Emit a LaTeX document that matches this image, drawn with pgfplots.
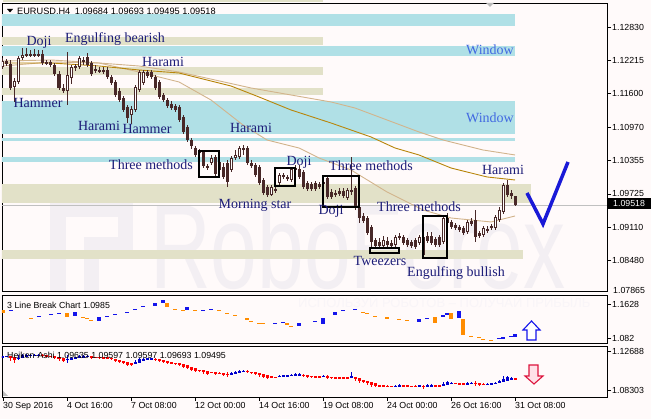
\documentclass[border=0pt]{standalone}
\usepackage{fontspec}
\setmainfont{Liberation Sans}
\newfontfamily\serif{Liberation Serif}
\usepackage{pgfplots}
\usepackage{pgfplotstable}
\pgfplotsset{compat=1.18}

\definecolor{bgc}{RGB}{255,250,250}
\definecolor{candle}{RGB}{72,40,40}
\definecolor{lblue}{RGB}{176,224,230}
\definecolor{beige}{RGB}{226,225,200}
\definecolor{navy}{RGB}{28,28,120}
\definecolor{winblue}{RGB}{65,105,225}
\definecolor{gold}{RGB}{184,134,11}
\definecolor{tanc}{RGB}{210,180,140}
\definecolor{lborange}{RGB}{255,140,0}
\definecolor{lbblue}{RGB}{20,20,235}
\definecolor{hared}{RGB}{255,0,0}
\definecolor{hablue}{RGB}{0,0,205}
\definecolor{wm}{RGB}{243,239,243}
\definecolor{wm2}{RGB}{249,245,248}
\definecolor{pricegray}{RGB}{192,192,192}
\definecolor{ckblue}{RGB}{25,25,215}
\definecolor{arred}{RGB}{220,20,60}
\definecolor{arpink}{RGB}{255,225,232}

\newcommand\ticfont{\fontsize{8.8}{10}\selectfont}

\pgfplotstableread{
i o h l c ho hc
0 1.12087 1.12254 1.12050 1.12198 1.12143 1.12147
1 1.12198 1.12236 1.12105 1.12143 1.12144 1.12170
2 1.12143 1.12217 1.11659 1.11696 1.12157 1.11929
3 1.11715 1.11882 1.11436 1.11826 1.12042 1.11715
4 1.11808 1.12291 1.11771 1.12254 1.11879 1.12031
5 1.12254 1.12440 1.12217 1.12310 1.11955 1.12305
6 1.12310 1.12440 1.12273 1.12329 1.12130 1.12338
7 1.12329 1.12403 1.12273 1.12310 1.12234 1.12329
8 1.12310 1.12422 1.12273 1.12329 1.12280 1.12333
9 1.12329 1.12403 1.12273 1.12310 1.12306 1.12329
10 1.12329 1.12403 1.12124 1.12161 1.12317 1.12254
11 1.12161 1.12217 1.12124 1.12180 1.12286 1.12170
12 1.12180 1.12217 1.12087 1.12124 1.12228 1.12152
13 1.12124 1.12161 1.11919 1.11957 1.12189 1.12040
14 1.11957 1.12012 1.11659 1.11696 1.12115 1.11831
15 1.11696 1.11771 1.11603 1.11640 1.11973 1.11678
16 1.11640 1.12366 1.11380 1.11938 1.11825 1.11831
17 1.11882 1.12124 1.11771 1.12087 1.11828 1.11966
18 1.12068 1.12143 1.12012 1.12105 1.11897 1.12082
19 1.12087 1.12291 1.12050 1.12254 1.11990 1.12170
20 1.12217 1.12273 1.12124 1.12180 1.12079 1.12198
21 1.12273 1.12347 1.12087 1.12124 1.12139 1.12208
22 1.12161 1.12198 1.11919 1.11957 1.12172 1.12059
23 1.12050 1.12124 1.11975 1.12012 1.12115 1.12040
24 1.12031 1.12087 1.11975 1.12012 1.12078 1.12026
25 1.12031 1.12087 1.11957 1.11994 1.12052 1.12017
26 1.12031 1.12087 1.11864 1.11901 1.12035 1.11971
27 1.11901 1.11938 1.11752 1.11789 1.12003 1.11845
28 1.11808 1.11845 1.11529 1.11566 1.11923 1.11687
29 1.11640 1.11696 1.11436 1.11473 1.11804 1.11561
30 1.11510 1.11547 1.11250 1.11287 1.11683 1.11399
31 1.11343 1.11380 1.11045 1.11138 1.11540 1.11227
32 1.11194 1.11361 1.11027 1.11306 1.11384 1.11222
33 1.11287 1.11752 1.11250 1.11715 1.11302 1.11501
34 1.11659 1.12031 1.11622 1.11994 1.11400 1.11826
35 1.11789 1.12031 1.11752 1.11994 1.11613 1.11892
36 1.11994 1.12031 1.11882 1.11919 1.11752 1.11957
37 1.11994 1.12031 1.11864 1.11901 1.11854 1.11947
38 1.11901 1.11938 1.11659 1.11696 1.11901 1.11799
39 1.11808 1.11845 1.11492 1.11529 1.11849 1.11668
40 1.11566 1.11603 1.11436 1.11473 1.11758 1.11520
41 1.11473 1.11510 1.11324 1.11361 1.11639 1.11417
42 1.11399 1.11454 1.11287 1.11324 1.11527 1.11366
43 1.11361 1.11399 1.11250 1.11287 1.11447 1.11324
44 1.11343 1.11380 1.11064 1.11101 1.11386 1.11222
45 1.11157 1.11194 1.10841 1.10878 1.11304 1.11017
46 1.10971 1.11008 1.10692 1.10729 1.11161 1.10850
47 1.10729 1.10766 1.10562 1.10617 1.11004 1.10669
48 1.10580 1.10617 1.10413 1.10450 1.10837 1.10515
49 1.10487 1.10562 1.10431 1.10524 1.10675 1.10501
50 1.10506 1.10543 1.10208 1.10245 1.10588 1.10376
51 1.10245 1.10283 1.10171 1.10208 1.10482 1.10227
52 1.10301 1.10450 1.10264 1.10394 1.10353 1.10352
53 1.10413 1.10450 1.10059 1.10097 1.10353 1.10255
54 1.10171 1.10394 1.10134 1.10320 1.10303 1.10255
55 1.10227 1.10301 1.10004 1.10041 1.10279 1.10143
56 1.10301 1.10357 1.09855 1.09948 1.10210 1.10115
57 1.10171 1.10431 1.10134 1.10394 1.10162 1.10283
58 1.10394 1.10543 1.10357 1.10450 1.10223 1.10436
59 1.10413 1.10617 1.10376 1.10580 1.10329 1.10497
60 1.10543 1.10636 1.10450 1.10580 1.10413 1.10552
61 1.10580 1.10617 1.10264 1.10301 1.10484 1.10441
62 1.10301 1.10357 1.10208 1.10245 1.10461 1.10278
63 1.10264 1.10301 1.10041 1.10078 1.10370 1.10171
64 1.10227 1.10264 1.09892 1.09929 1.10270 1.10078
65 1.09985 1.10022 1.09706 1.09743 1.10173 1.09864
66 1.09855 1.09892 1.09669 1.09706 1.10019 1.09780
67 1.09706 1.09892 1.09687 1.09855 1.09899 1.09785
68 1.09780 1.09873 1.09743 1.09818 1.09842 1.09804
69 1.09929 1.10115 1.09892 1.10078 1.09823 1.10004
70 1.10078 1.10115 1.10004 1.10041 1.09912 1.10059
71 1.10041 1.10078 1.09966 1.10004 1.09985 1.10022
72 1.09985 1.10227 1.09948 1.10190 1.10004 1.10087
73 1.10171 1.10264 1.10115 1.10208 1.10044 1.10190
74 1.10190 1.10264 1.10004 1.10041 1.10117 1.10124
75 1.10134 1.10171 1.09818 1.09855 1.10121 1.09994
76 1.09929 1.09966 1.09780 1.09818 1.10058 1.09873
77 1.09911 1.09948 1.09780 1.09818 1.09965 1.09864
78 1.09929 1.09966 1.09780 1.09818 1.09914 1.09873
79 1.09911 1.09948 1.09818 1.09855 1.09894 1.09883
80 1.09948 1.10022 1.09836 1.09911 1.09888 1.09929
81 1.10022 1.10059 1.09632 1.09669 1.09909 1.09846
82 1.09762 1.09818 1.09632 1.09669 1.09877 1.09720
83 1.09743 1.09799 1.09669 1.09706 1.09799 1.09729
84 1.09780 1.09836 1.09687 1.09725 1.09764 1.09757
85 1.09780 1.09836 1.09650 1.09687 1.09760 1.09739
86 1.09650 1.09836 1.09613 1.09799 1.09749 1.09725
87 1.09799 1.10413 1.09706 1.09762 1.09736 1.09920
88 1.09836 1.09873 1.09427 1.09483 1.09827 1.09655
89 1.09483 1.09520 1.09185 1.09278 1.09741 1.09367
90 1.09315 1.09371 1.09185 1.09222 1.09554 1.09274
91 1.09278 1.09315 1.08962 1.08999 1.09414 1.09139
92 1.09111 1.09148 1.08720 1.08832 1.09276 1.08953
93 1.08869 1.08906 1.08702 1.08757 1.09115 1.08809
94 1.08832 1.08906 1.08702 1.08757 1.08962 1.08799
95 1.08757 1.08943 1.08702 1.08869 1.08880 1.08818
96 1.08850 1.08925 1.08702 1.08776 1.08849 1.08813
97 1.08813 1.08869 1.08720 1.08757 1.08830 1.08790
98 1.08776 1.08962 1.08739 1.08925 1.08810 1.08850
99 1.08943 1.08999 1.08869 1.08906 1.08830 1.08929
100 1.08925 1.08962 1.08776 1.08813 1.08880 1.08869
101 1.08869 1.08906 1.08739 1.08776 1.08875 1.08823
102 1.08832 1.08869 1.08720 1.08757 1.08849 1.08795
103 1.08869 1.08906 1.08702 1.08739 1.08821 1.08804
104 1.08813 1.08962 1.08776 1.08925 1.08813 1.08869
105 1.08590 1.08962 1.08534 1.08925 1.08841 1.08753
106 1.08943 1.09018 1.08813 1.08850 1.08797 1.08906
107 1.08943 1.09018 1.08776 1.08813 1.08850 1.08888
108 1.08888 1.08925 1.08739 1.08776 1.08869 1.08832
109 1.08925 1.08962 1.08739 1.08776 1.08850 1.08850
110 1.08832 1.09315 1.08795 1.09278 1.08850 1.09055
111 1.09278 1.09371 1.09148 1.09185 1.08953 1.09246
112 1.09204 1.09241 1.09074 1.09111 1.09100 1.09157
113 1.09148 1.09185 1.09055 1.09092 1.09128 1.09120
114 1.09111 1.09148 1.09018 1.09055 1.09124 1.09083
115 1.09092 1.09129 1.08962 1.08999 1.09103 1.09046
116 1.09018 1.09241 1.08981 1.09204 1.09074 1.09111
117 1.09222 1.09278 1.09129 1.09167 1.09092 1.09199
118 1.09241 1.09427 1.08832 1.08925 1.09146 1.09106
119 1.08999 1.09036 1.08906 1.08943 1.09126 1.08971
120 1.08962 1.09129 1.08925 1.09092 1.09048 1.09027
121 1.09074 1.09129 1.08999 1.09036 1.09036 1.09060
122 1.09092 1.09167 1.09055 1.09129 1.09048 1.09111
123 1.09092 1.09334 1.09055 1.09297 1.09079 1.09195
124 1.09241 1.09483 1.09204 1.09427 1.09137 1.09339
125 1.09390 1.09929 1.09353 1.09892 1.09237 1.09641
126 1.09892 1.09985 1.09669 1.09706 1.09438 1.09813
127 1.09743 1.09799 1.09632 1.09687 1.09626 1.09715
128 1.09684 1.09693 1.09495 1.09518 1.09671 1.09614
}\ohlc

\pgfplotstableread{
i t b
0 1.14854 1.14142
7 1.12954 1.12716
16 1.14142 1.13191
20 1.13191 1.12954
21 1.12954 1.12716
22 1.12478 1.12241
41 1.16518 1.15567
43 1.15092 1.14854
45 1.14854 1.14617
48 1.14854 1.14617
54 1.14854 1.14617
56 1.14142 1.13904
58 1.13666 1.13429
61 1.12954 1.12478
62 1.12241 1.12003
64 1.11766 1.11528
65 1.11766 1.11528
71 1.11766 1.11290
72 1.11053 1.10815
90 1.14379 1.14142
91 1.14142 1.13904
93 1.13429 1.13191
96 1.13191 1.12716
99 1.12716 1.12478
101 1.12478 1.12241
108 1.13191 1.11766
112 1.14142 1.12716
115 1.12716 1.08914
117 1.08677 1.08439
119 1.08439 1.08202
120 1.07964 1.07726
122 1.07726 1.07489
}\lbO

\pgfplotstableread{
i t b
2 1.14854 1.14617
9 1.13429 1.13191
12 1.13904 1.13666
14 1.14142 1.13904
18 1.14379 1.13429
24 1.13191 1.12241
26 1.13429 1.13191
28 1.13904 1.13666
31 1.14379 1.14142
33 1.15092 1.14854
35 1.15805 1.15567
38 1.16518 1.15805
40 1.17230 1.16518
46 1.15567 1.14854
50 1.14854 1.14617
52 1.15092 1.14854
68 1.11766 1.11528
70 1.12003 1.11766
74 1.11766 1.11053
78 1.12241 1.12003
80 1.12954 1.11528
83 1.14379 1.13666
85 1.14854 1.14617
88 1.15092 1.14854
104 1.12716 1.12003
106 1.12954 1.12716
110 1.13666 1.13191
111 1.14142 1.13666
114 1.14617 1.12954
124 1.08202 1.07964
125 1.08439 1.07964
127 1.08677 1.08439
128 1.09152 1.08439
}\lbB

\pgfplotsset{
  panel/.style={anchor=south west, scale only axis, width=605pt,
    xmin=-0.25, xmax=151, axis line style={line width=0.8pt},
    tick align=outside, major tick length=4pt,
    tick style={black, line width=0.8pt}, ytick pos=right,
    yticklabel style={font=\ticfont, inner sep=1pt}, xtick=\empty},
  eb/.style 2 args={draw=none, error bars/.cd, y dir=both, y explicit,
    error mark=none, error bar style={draw=#1, line width=#2}},
}

\begin{document}
\begin{tikzpicture}
\useasboundingbox (0,0) rectangle (651pt,419pt);
\fill[bgc] (0,0) rectangle (651pt,419pt);

% watermarks
\begin{scope}[x=1pt,y=-1pt,shift={(0pt,419pt)}]
  \begin{scope}
    \clip (2,3) rectangle (607,291);
    \fill[wm] (50,202) rectangle (66,291);
    \fill[wm] (50,202) rectangle (133,217);
    \fill[wm] (118,202) rectangle (133,252);
    \fill[wm] (84,237) rectangle (133,252);
    \fill[wm] (84,237) rectangle (99,291);
    \node[font=\fontsize{120}{120}\selectfont, text=wm, anchor=south west,
      inner sep=0pt, xscale=0.7] at (150,290) {RoboForex};
  \end{scope}
  \begin{scope}
    \clip (2,295) rectangle (607,343);
    \node[font=\fontsize{13}{14}\selectfont, text=wm2, anchor=west, inner sep=0pt]
      at (298,302) {ИСПОЛЬЗУЙ РОБОТОВ – ПОЛУЧАЙ ПРИБЫЛЬ};
  \end{scope}
\end{scope}

% ---------------- main panel
\begin{axis}[panel, at={(2pt,128pt)}, height=288pt,
  ymin=1.07920, ymax=1.13277,
  ytick={1.12830,1.12215,1.11600,1.10970,1.10355,1.09725,1.09110,1.08480},
  yticklabels={1.12830,1.12215,1.11600,1.10970,1.10355,1.09725,1.09110,1.08480}]
\fill[lblue] (axis cs:-1,1.13073) rectangle (axis cs:128,1.12849);
\fill[beige] (axis cs:-1,1.12645) rectangle (axis cs:80,1.12496);
\fill[lblue] (axis cs:-1,1.12477) rectangle (axis cs:128,1.12291);
\fill[beige] (axis cs:-1,1.12087) rectangle (axis cs:80,1.11938);
\fill[beige] (axis cs:-1,1.11696) rectangle (axis cs:80,1.11566);
\fill[lblue] (axis cs:-1,1.11454) rectangle (axis cs:128,1.10841);
\fill[lblue] (axis cs:-1,1.10766) rectangle (axis cs:128,1.10710);
\fill[lblue] (axis cs:-1,1.10413) rectangle (axis cs:128,1.10320);
\fill[beige] (axis cs:-1,1.09911) rectangle (axis cs:132,1.09557);
\fill[beige] (axis cs:-1,1.08683) rectangle (axis cs:130,1.08515);

\addplot[pricegray, line width=0.8pt] coordinates {(-0.25,1.09518) (151,1.09518)};

\addplot[tanc, line width=0.9pt] coordinates {(0,1.12198) (12,1.12217) (24,1.12161) (34,1.12105) (44,1.11994) (62,1.11696) (82,1.11436) (88,1.11324) (104,1.10878) (110,1.10729) (120,1.10543) (128,1.10450)};
\addplot[tanc, line width=0.9pt] coordinates {(0,1.12105) (12,1.12180) (24,1.12161) (34,1.11994) (44,1.11808) (52,1.11473) (60,1.11008) (66,1.10729) (74,1.10580) (79,1.10394) (87,1.10171) (96,1.09762) (105,1.09427) (112,1.09278) (122,1.09204) (128,1.09315)};
\addplot[gold, line width=0.9pt] coordinates {(0,1.12161) (12,1.12161) (24,1.12105) (34,1.12031) (44,1.11975) (57,1.11733) (64,1.11529) (72,1.11287) (82,1.11045) (92,1.10785) (98,1.10580) (104,1.10450) (112,1.10208) (121,1.10041) (128,1.09985)};

% candles
\addplot[eb={candle}{1pt}] table[x=i, y expr={(\thisrow{h}+\thisrow{l})/2}, y error expr={(\thisrow{h}-\thisrow{l})/2}] {\ohlc};
\addplot[eb={candle}{3pt}] table[x=i, y expr={(\thisrow{o}+\thisrow{c})/2}, y error expr={max(abs(\thisrow{c}-\thisrow{o})/2,0.00006)}] {\ohlc};
\addplot[eb={white}{1pt}] table[x=i, y expr={(\thisrow{o}+\thisrow{c})/2}, y error expr={max((\thisrow{c}-\thisrow{o})/2-0.00019,0)}] {\ohlc};

% pattern boxes
\draw[black, line width=1.6pt] (axis cs:49,1.10524) rectangle (axis cs:54,1.10041);
\draw[black, line width=1.6pt] (axis cs:68,1.10208) rectangle (axis cs:73,1.09873);
\draw[black, line width=1.6pt] (axis cs:80,1.10059) rectangle (axis cs:89,1.09483);
\draw[black, line width=1.6pt] (axis cs:91.75,1.08720) rectangle (axis cs:99,1.08627);
\draw[black, line width=1.6pt] (axis cs:105,1.09315) rectangle (axis cs:111,1.08534);

% forecast check mark
\draw[ckblue, line width=3.5pt, line join=miter] (axis cs:131,1.09743) -- (axis cs:135,1.09167) -- (axis cs:141.25,1.10320);
\end{axis}

% ---------------- 3 line break panel
\begin{axis}[panel, at={(2pt,76pt)}, height=48pt,
  ymin=1.07014, ymax=1.18418,
  ytick={1.1628,1.082}, yticklabels={1.1628,1.082}]
\addplot[eb={lborange}{3.5pt}] table[x=i, y expr={(\thisrow{t}+\thisrow{b})/2}, y error expr={(\thisrow{t}-\thisrow{b})/2}] {\lbO};
\addplot[eb={lbblue}{3.5pt}] table[x=i, y expr={(\thisrow{t}+\thisrow{b})/2}, y error expr={(\thisrow{t}-\thisrow{b})/2}] {\lbB};
\end{axis}

% ---------------- Heiken Ashi panel
\begin{axis}[panel, at={(2pt,22pt)}, height=51pt,
  ymin=1.07594, ymax=1.13329,
  ytick={1.12688,1.08303}, yticklabels={1.12688,1.08303},
  xtick={0,16,32,48,64,80,96,112,128}, xtick pos=bottom,
  xticklabels={30 Sep 2016,4 Oct 16:00,7 Oct 08:00,12 Oct 00:00,14 Oct 16:00,19 Oct 08:00,24 Oct 00:00,26 Oct 16:00,31 Oct 08:00},
  xticklabel style={anchor=north west, font=\ticfont, inner sep=0pt, yshift=-1.5pt}]
\addplot[eb={hared}{1pt}] table[x=i, y expr={(\thisrow{h}+\thisrow{l})/2}, y error expr={(\thisrow{h}-\thisrow{l})/2}] {\ohlc};
\addplot[eb={hablue}{1pt}] table[x=i, y expr={(\thisrow{h}+\thisrow{l})/2}, y error expr={(\thisrow{h}-\thisrow{l})/2*(\thisrow{hc}>\thisrow{ho})}] {\ohlc};
\addplot[eb={hared}{3pt}] table[x=i, y expr={(\thisrow{ho}+\thisrow{hc})/2}, y error expr={max(abs(\thisrow{hc}-\thisrow{ho})/2,0.0005)}] {\ohlc};
\addplot[eb={hablue}{3pt}] table[x=i, y expr={(\thisrow{ho}+\thisrow{hc})/2}, y error expr={max(abs(\thisrow{hc}-\thisrow{ho})/2,0.0005)*(\thisrow{hc}>\thisrow{ho})}] {\ohlc};
\end{axis}

% ---------------- texts and markers
\begin{scope}[x=1pt,y=-1pt,shift={(0pt,419pt)},
  lbl/.style={font=\serif\fontsize{14}{16}\selectfont, text=navy, inner sep=0pt},
  wlbl/.style={font=\serif\fontsize{14}{16}\selectfont, text=winblue, inner sep=0pt}]
\fill[beige] (3,0) rectangle (323,1.6);
\fill[black] (7,9) -- (13,9) -- (10,12.5) -- cycle;
\node[anchor=west, font=\fontsize{9.2}{10}\selectfont, inner sep=0pt] at (17,11) {EURUSD.H4\enspace 1.09684 1.09693 1.09495 1.09518};
\fill[gray!55] (486,3) -- (494,3) -- (490,7) -- cycle;

\node[lbl] at (39,42) {Doji};
\node[lbl] at (115,39) {Engulfing bearish};
\node[lbl] at (163,62) {Harami};
\node[lbl] at (38,103) {Hammer};
\node[lbl] at (99,126) {Harami};
\node[lbl] at (147,129) {Hammer};
\node[lbl] at (251,128) {Harami};
\node[lbl] at (151,165) {Three methods};
\node[lbl] at (255,205) {Morning star};
\node[lbl] at (299,162) {Doji};
\node[lbl] at (371,166) {Three methods};
\node[lbl] at (331,211) {Doji};
\node[lbl] at (419,207) {Three methods};
\node[lbl] at (380,261) {Tweezers};
\node[lbl] at (456,273) {Engulfing bullish};
\node[lbl] at (503,170) {Harami};
\node[wlbl, anchor=east] at (514,50) {Window};
\node[wlbl, anchor=east] at (514,118) {Window};

% current price tag
\fill[black] (608,198) rectangle (651,209);
\node[anchor=west, font=\ticfont, text=white, inner sep=0pt] at (613,203.5) {1.09518};
\node[anchor=west, font=\ticfont, inner sep=0pt] at (613,290) {1.07865};

% sub panel labels
\node[anchor=west, font=\ticfont, inner sep=0pt] at (7,305) {3 Line Break Chart 1.0985};
\node[anchor=west, font=\ticfont, inner sep=0pt] at (7,355) {Heiken-Ashi 1.09635 1.09597 1.09597 1.09693 1.09495};

% arrows
\draw[lbblue, fill=white, line width=1.1pt, line join=miter] (531.5,321) -- (540,330) -- (536,330) -- (536,340) -- (527,340) -- (527,330) -- (523,330) -- cycle;
\draw[arred, fill=arpink, line width=1.1pt, line join=miter] (529,365) -- (538,365) -- (538,376) -- (543,376) -- (534,384) -- (525,376) -- (529,376) -- cycle;
\fill[gray!50] (3,391) -- (3,396) -- (8,396) -- cycle;
\end{scope}
\end{tikzpicture}
\end{document}
